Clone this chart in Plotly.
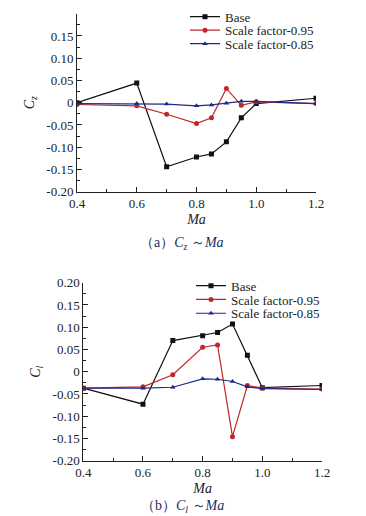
import plotly.graph_objects as go

ma = [0.4, 0.6, 0.7, 0.8, 0.85, 0.9, 0.95, 1.0, 1.2]

cz_base = [0.000, 0.044, -0.144, -0.122, -0.115, -0.088, -0.034, -0.002, 0.010]
cz_sf95 = [-0.004, -0.007, -0.026, -0.047, -0.034, 0.032, -0.006, 0.002, -0.002]
cz_sf85 = [-0.002, -0.002, -0.003, -0.007, -0.005, -0.001, 0.003, 0.003, -0.002]

cl_base = [-0.037, -0.073, 0.070, 0.081, 0.088, 0.107, 0.037, -0.036, -0.031]
cl_sf95 = [-0.037, -0.034, -0.007, 0.055, 0.060, -0.146, -0.031, -0.037, -0.039]
cl_sf85 = [-0.037, -0.037, -0.035, -0.016, -0.017, -0.022, -0.034, -0.038, -0.040]

series_names = ["Base", "Scale factor-0.95", "Scale factor-0.85"]
y_tickvals = [0.20, 0.15, 0.10, 0.05, 0.0, -0.05, -0.10, -0.15, -0.20]
y_ticktext = ["0.20", "0.15", "0.10", "0.05", "0", "-0.05", "-0.10", "-0.15", "-0.20"]
x_tickvals = [0.4, 0.6, 0.8, 1.0, 1.2]
x_ticktext = ["0.4", "0.6", "0.8", "1.0", "1.2"]
captions = ["（a）<i>C</i><sub><i>z</i></sub> ～<i>Ma</i>",
            "（b）<i>C</i><sub><i>l</i></sub> ～<i>Ma</i>"]

colors = ["#111111", "#c0262a", "#1c2a8a"]
symbols = ["square", "circle", "triangle-up"]
FONT = "Liberation Serif"
W, H = 366, 516
OFF = 8  # page body margin of the rendered html

def px_x(v):
    return (v - OFF) / W

def px_y(v):
    return 1 - (v - OFF) / H

fig = go.Figure()

legend_rows_top = [16.7, 30.2, 43.7]
legend_rows_bot = [285.7, 299.5, 313.3]

for i, (ys, name) in enumerate(zip([cz_base, cz_sf95, cz_sf85], series_names)):
    fig.add_trace(go.Scatter(x=ma, y=ys, name=name, mode="lines+markers",
                             line=dict(color=colors[i], width=1.2),
                             marker=dict(symbol=symbols[i], size=5, color=colors[i]),
                             xaxis="x", yaxis="y", legend="legend" if i == 0 else f"legend{i + 1}"))
for i, (ys, name) in enumerate(zip([cl_base, cl_sf95, cl_sf85], series_names)):
    fig.add_trace(go.Scatter(x=ma, y=ys, name=name, mode="lines+markers",
                             line=dict(color=colors[i], width=1.2),
                             marker=dict(symbol=symbols[i], size=5, color=colors[i]),
                             xaxis="x2", yaxis="y2", legend=f"legend{i + 4}"))

def xax(domain, anchor):
    return dict(domain=domain, anchor=anchor, range=[0.4, 1.2], automargin=False,
                tickvals=x_tickvals, ticktext=x_ticktext,
                showline=True, linecolor="#222", linewidth=1,
                ticks="inside", ticklen=5, tickcolor="#222",
                minor=dict(ticks="inside", ticklen=3, tickcolor="#222", dtick=0.1, tick0=0.4),
                showgrid=False, zeroline=False,
                tickfont=dict(family=FONT, size=13, color="#222"),
                title=dict(text="<i>Ma</i>", font=dict(family=FONT, size=14, color="#222"), standoff=3))

def yax(domain, anchor, title):
    return dict(domain=domain, anchor=anchor, range=[-0.2, 0.2], automargin=False,
                tickvals=y_tickvals, ticktext=y_ticktext,
                showline=True, linecolor="#222", linewidth=1,
                ticks="inside", ticklen=5, tickcolor="#222",
                minor=dict(ticks="inside", ticklen=3, tickcolor="#222", dtick=0.025, tick0=0),
                showgrid=False, zeroline=False,
                tickfont=dict(family=FONT, size=13, color="#222"),
                title=dict(text=title, font=dict(family=FONT, size=14, color="#222"), standoff=8))

def leg(x_text, y_center):
    return dict(x=px_x(x_text - 40), y=px_y(y_center), xanchor="left", yanchor="middle",
                bgcolor="rgba(0,0,0,0)", borderwidth=0,
                font=dict(family=FONT, size=13, color="#222"),
                tracegroupgap=0, itemwidth=30)

layout_legends = {}
for i, yc in enumerate(legend_rows_top):
    layout_legends["legend" if i == 0 else f"legend{i + 1}"] = leg(225, yc)
for i, yc in enumerate(legend_rows_bot):
    layout_legends[f"legend{i + 4}"] = leg(231, yc)

fig.update_layout(
    width=W, height=H,
    margin=dict(l=0, r=0, t=0, b=0, autoexpand=False),
    paper_bgcolor="white", plot_bgcolor="white",
    font=dict(family=FONT, size=13, color="#222"),
    xaxis=xax([px_x(77), px_x(316)], "y"),
    yaxis=yax([px_y(191.7), px_y(13.7)], "x", "<i>C</i><sub><i>z</i></sub>"),
    xaxis2=xax([px_x(83.3), px_x(322)], "y2"),
    yaxis2=yax([px_y(460.7), px_y(282.7)], "x2", "<i>C</i><sub><i>l</i></sub>"),
    showlegend=True,
    **layout_legends,
)

for cap, (cx, cy) in zip(captions, [(182, 244), (182, 506)]):
    fig.add_annotation(x=px_x(cx), y=px_y(cy), xref="paper", yref="paper", showarrow=False,
                       xanchor="center", yanchor="middle", text=cap,
                       font=dict(family=FONT, size=14, color="#1f2a5c"))

fig.write_html("out.html")
